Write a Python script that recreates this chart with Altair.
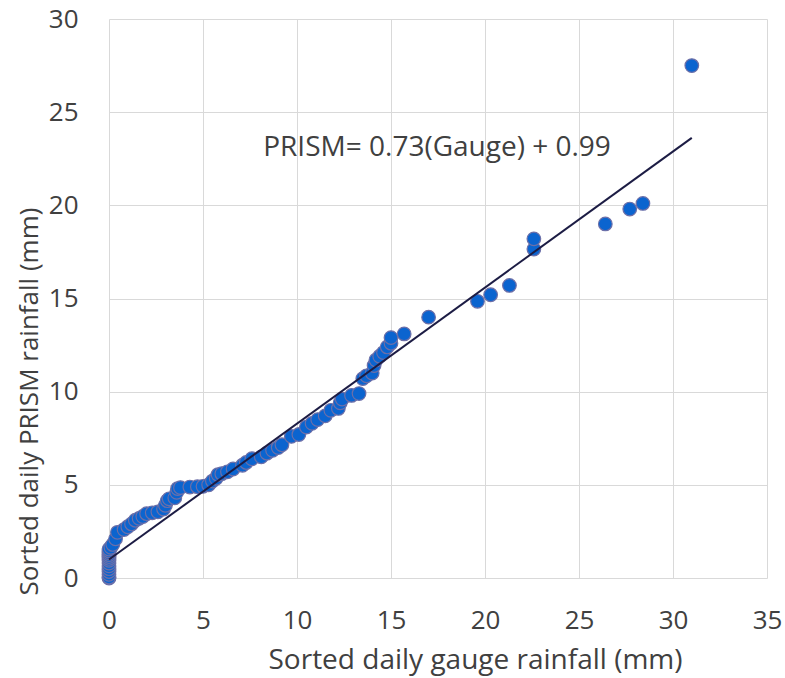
import altair as alt
import pandas as pd

# Sorted daily gauge rainfall (mm)
gauge = [0, 0, 0, 0, 0, 0, 0, 0, 0, 0, 0, 0, 0, 0,
         0.1, 0.2, 0.35, 0.45, 0.8, 1.0, 1.2, 1.4, 1.6, 1.8, 2.0, 2.3, 2.6, 2.9,
         3.0, 3.1, 3.2, 3.5, 3.6, 3.65, 3.8, 4.3, 4.7, 5.0, 5.3, 5.5, 5.7, 5.8,
         6.0, 6.3, 6.6, 7.1, 7.3, 7.6, 8.1, 8.4, 8.7, 9.0, 9.2, 9.7, 10.1, 10.5,
         10.8, 11.1, 11.5, 11.8, 12.2, 12.3, 12.4, 12.9, 13.3, 13.5, 13.7, 14.0,
         14.1, 14.2, 14.4, 14.6, 14.8, 15.0, 15.0, 15.7, 17.0, 19.6, 20.3, 21.3,
         22.6, 22.6, 26.4, 27.7, 28.4, 31.0]
# Sorted daily PRISM rainfall (mm)
prism = [0.0, 0.05, 0.2, 0.35, 0.5, 0.65, 0.8, 0.95, 1.05, 1.15, 1.25, 1.35, 1.45, 1.55,
         1.65, 1.8, 2.1, 2.45, 2.6, 2.75, 2.9, 3.1, 3.2, 3.3, 3.45, 3.5, 3.55, 3.7,
         3.9, 4.15, 4.25, 4.3, 4.6, 4.8, 4.85, 4.88, 4.9, 4.92, 5.0, 5.2, 5.35, 5.55,
         5.6, 5.7, 5.85, 6.05, 6.2, 6.4, 6.5, 6.7, 6.85, 7.0, 7.15, 7.6, 7.7, 8.1,
         8.3, 8.5, 8.7, 9.0, 9.1, 9.4, 9.6, 9.8, 9.9, 10.7, 10.85, 11.0,
         11.4, 11.7, 11.9, 12.1, 12.4, 12.6, 12.9, 13.1, 14.0, 14.85, 15.2, 15.7,
         17.65, 18.2, 19.0, 19.8, 20.1, 27.5]

# Fitted line: PRISM = 0.73 * Gauge + 0.99, drawn over the gauge range
fit_x = [0, 31]
slope = 0.73
intercept = 0.99
label_text = ["PRISM= 0.73(Gauge) + 0.99"]
label_x = [17.45]
label_y = [23.1]

FONT = "Open Sans"
TXT = "#404040"

pts = pd.DataFrame({"g": gauge, "p": prism})
fit = pd.DataFrame({"g": fit_x})
lab = pd.DataFrame({"t": label_text, "g": label_x, "p": label_y})

xs = alt.Scale(domain=[0, 35], nice=False)
ys = alt.Scale(domain=[0, 30], nice=False)

xaxis = alt.Axis(values=[0, 5, 10, 15, 20, 25, 30, 35], title="Sorted daily gauge rainfall (mm)",
                 domain=False, ticks=False, grid=True, gridColor="#D9D9D9", gridWidth=1,
                 labelFont=FONT, labelFontSize=26, labelColor=TXT, labelPadding=29,
                 labelFlush=False, labelOverlap=False,
                 titleFont=FONT, titleFontSize=28, titleFontWeight="normal", titleColor=TXT,
                 titleX=366, titleY=82, titleBaseline="middle", titleAlign="center")
yaxis = alt.Axis(values=[0, 5, 10, 15, 20, 25, 30], title="Sorted daily PRISM rainfall (mm)",
                 domain=False, ticks=False, grid=True, gridColor="#D9D9D9", gridWidth=1,
                 labelFont=FONT, labelFontSize=26, labelColor=TXT, labelPadding=31,
                 labelFlush=False, labelOverlap=False, labelBaseline="middle",
                 titleFont=FONT, titleFontSize=26, titleFontWeight="normal", titleColor=TXT,
                 titleX=-80, titleY=382, titleBaseline="middle", titleAlign="center", titleAngle=270)

points = alt.Chart(pts).mark_point(
    filled=True, shape="circle", size=185, fill="#0B64CF", fillOpacity=1,
    stroke="#6C6FA8", strokeWidth=1.2, opacity=1
).encode(
    x=alt.X("g:Q", scale=xs, axis=xaxis),
    y=alt.Y("p:Q", scale=ys, axis=yaxis),
)

line = alt.Chart(fit).transform_calculate(
    p=f"{slope} * datum.g + {intercept}"
).mark_line(color="#1C1C44", strokeWidth=2).encode(
    x=alt.X("g:Q", scale=xs),
    y=alt.Y("p:Q", scale=ys),
)

text = alt.Chart(lab).mark_text(
    font=FONT, fontSize=28, color=TXT, align="center", baseline="middle"
).encode(
    x=alt.X("g:Q", scale=xs),
    y=alt.Y("p:Q", scale=ys),
    text="t:N",
)

chart = alt.layer(points, line, text).properties(
    width=658, height=559,
    autosize=alt.AutoSizeParams(type="none"),
    padding={"left": 109, "top": 19, "right": 18, "bottom": 100},
    background="white",
).configure_view(stroke=None)

chart.save("out.html", embed_options={"renderer": "svg", "actions": False})
